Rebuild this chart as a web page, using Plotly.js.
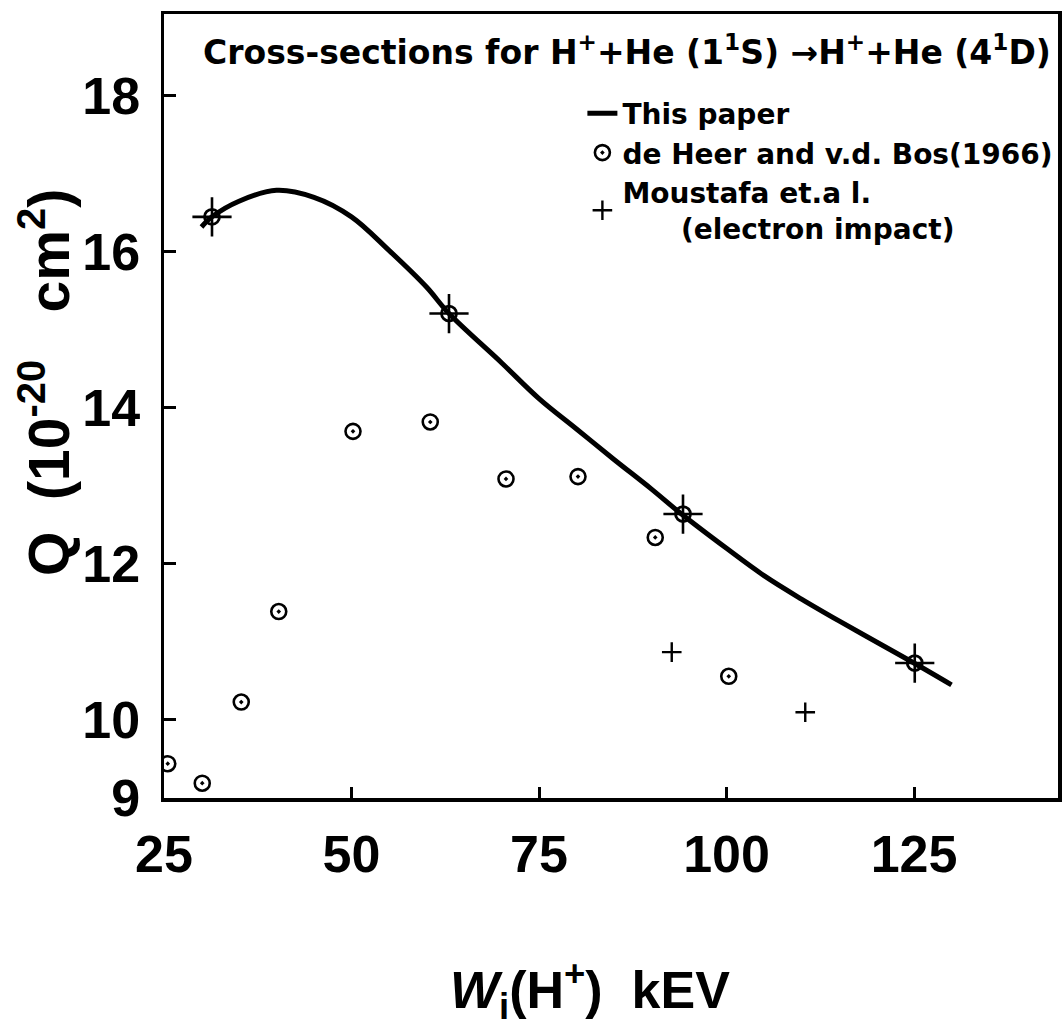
<!DOCTYPE html>
<html>
<head>
<meta charset="utf-8">
<script src="https://cdn.plot.ly/plotly-3.0.1.min.js"></script>
<style>html,body{margin:0;padding:0;background:#fff;}#chart{width:1062px;height:1027px;}</style>
</head>
<body>
<div id="chart"></div>
<script>
// "This paper" theoretical curve
const curveX = [30, 31.4, 35, 40, 45, 50, 55, 60, 63, 70, 75, 80, 85, 90, 94, 100, 105, 110, 115, 120, 125, 130];
const curveY = [16.32, 16.45, 16.65, 16.79, 16.70, 16.45, 16.02, 15.55, 15.21, 14.58, 14.12, 13.73, 13.34, 12.96, 12.64, 12.20, 11.85, 11.55, 11.27, 11.00, 10.73, 10.45];
// de Heer and v.d. Bos (1966)
const heerX = [25.5, 30.1, 35.3, 40.3, 50.2, 60.5, 70.6, 80.2, 90.5, 100.3];
const heerY = [9.44, 9.19, 10.23, 11.39, 13.70, 13.82, 13.09, 13.12, 12.34, 10.56];
// Moustafa et al. (electron impact)
const mousX = [92.7, 110.5];
const mousY = [10.87, 10.10];
// points where both data sets coincide with the curve
const bothX = [31.4, 63.0, 94.2, 125.1];
const bothY = [16.45, 15.21, 12.64, 10.73];
// axis ticks
const xTicks = [25, 50, 75, 100, 125];
const xTickText = ['25', '50', '75', '100', '125'];
const yTicks = [9, 10, 12, 14, 16, 18];
const yTickText = ['9', '10', '12', '14', '16', '18'];

const tickFont = {family: 'Liberation Sans Narrow, Arial Narrow, sans-serif', size: 52, color: '#000', weight: 'bold'};
const titleFont = {family: 'DejaVu Sans, sans-serif', size: 33, color: '#000', weight: 'bold'};
const legendFont = {family: 'DejaVu Sans, sans-serif', size: 28, color: '#000', weight: 'bold'};
const nb = '\u00A0';

const traces = [
  {x: curveX, y: curveY, mode: 'lines', name: '<b>This paper</b>',
   line: {color: '#000', width: 5, shape: 'spline', smoothing: 1}},
  {x: heerX, y: heerY, mode: 'markers', name: '<b>de Heer and v.d. Bos(1966)</b>',
   marker: {symbol: 'circle-open-dot', size: 15, color: '#000', line: {color: '#000', width: 2.6}}},
  {x: mousX, y: mousY, mode: 'markers', name: '<b>Moustafa et.a l.</b><br><b>' + nb.repeat(6) + '(electron impact)</b>',
   marker: {symbol: 'cross-thin-open', size: 14, color: '#000', line: {color: '#000', width: 2.4}}},
  {x: bothX, y: bothY, mode: 'markers', showlegend: false, hoverinfo: 'skip',
   marker: {symbol: 'circle-open-dot', size: 15, color: '#000', line: {color: '#000', width: 2.8}}},
  {x: bothX, y: bothY, mode: 'markers', showlegend: false, hoverinfo: 'skip',
   marker: {symbol: 'cross-thin-open', size: 28, color: '#000', line: {color: '#000', width: 2.6}}}
];

const layout = {
  width: 1062, height: 1027,
  margin: {l: 164, r: 4, t: 14, b: 229, pad: 0, autoexpand: false},
  paper_bgcolor: '#fff', plot_bgcolor: '#fff',
  showlegend: true,
  legend: {x: 0.468, xanchor: 'left', y: 0.905, yanchor: 'top', bgcolor: 'rgba(0,0,0,0)',
           font: legendFont, itemwidth: 30, tracegroupgap: 0},
  xaxis: {range: [25, 144.2], tickvals: xTicks, ticktext: xTickText, ticks: 'inside', ticklen: 11, tickwidth: 3,
          tickcolor: '#000', showline: true, linecolor: '#000', linewidth: 3.5, mirror: true,
          showgrid: false, zeroline: false, tickfont: tickFont, ticklabelstandoff: 8, title: {text: ''}},
  yaxis: {range: [9, 19.05], tickvals: yTicks, ticktext: yTickText, ticks: 'inside', ticklen: 12, tickwidth: 3,
          tickcolor: '#000', showline: true, linecolor: '#000', linewidth: 3.5, mirror: true,
          showgrid: false, zeroline: false, tickfont: tickFont, ticklabelstandoff: 10, title: {text: ''}},
  annotations: [
    {text: '<b>Cross-sections for H<sup>+</sup>+He (1<sup>1</sup>S) \u2192H<sup>+</sup>+He (4<sup>1</sup>D)</b>',
     xref: 'paper', yref: 'paper', x: (627 - 164) / 894, y: (798 - 50) / 784, xanchor: 'center', yanchor: 'middle',
     showarrow: false, font: titleFont},
    {text: '<b><i>W</i><sub>i</sub>(H<sup>+</sup>)' + nb + nb + 'kEV</b>',
     xref: 'paper', yref: 'paper', x: (590 - 164) / 894, y: -(990 - 798) / 784, xanchor: 'center', yanchor: 'middle',
     showarrow: false, font: {family: 'Liberation Sans Narrow, Arial Narrow, sans-serif', size: 52, color: '#000', weight: 'bold'}},
    {text: '<b>Q' + nb + nb + '(10<sup>-20</sup>' + nb + nb + nb + 'cm<sup>2</sup>)</b>',
     xref: 'paper', yref: 'paper', x: -(164 - 45) / 894, y: (798 - 383) / 784, xanchor: 'center', yanchor: 'middle',
     textangle: -90, showarrow: false,
     font: {family: 'Liberation Sans, Arial, sans-serif', size: 57, color: '#000', weight: 'bold'}}
  ]
};

Plotly.newPlot('chart', traces, layout, {staticPlot: true, displayModeBar: false});
</script>
</body>
</html>
